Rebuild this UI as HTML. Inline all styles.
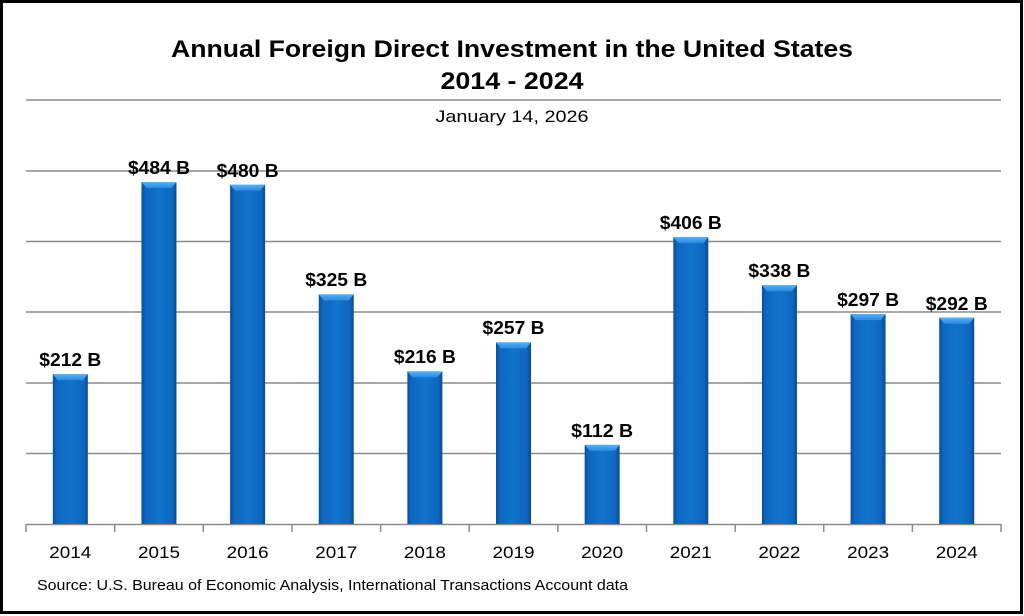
<!DOCTYPE html>
<html><head><meta charset="utf-8"><style>
html,body{margin:0;padding:0;background:#fff;}
svg{display:block;font-family:"Liberation Sans",sans-serif;}
</style></head><body>
<svg width="1024" height="616" viewBox="0 0 1024 616" xmlns="http://www.w3.org/2000/svg">
<defs>
<linearGradient id="g" x1="0" x2="1" y1="0" y2="0">
<stop offset="0" stop-color="#0b4f9c"/><stop offset="0.12" stop-color="#0e67c0"/>
<stop offset="0.5" stop-color="#1273cc"/><stop offset="0.88" stop-color="#0e67c0"/><stop offset="1" stop-color="#0a4a92"/>
</linearGradient>
<linearGradient id="t" x1="0" x2="0" y1="0" y2="1"><stop offset="0" stop-color="#5ab0f0"/><stop offset="1" stop-color="#2a8ae0"/></linearGradient>
<g id="cap"><polygon points="0,0 35,0 30,6 5,6" fill="url(#t)"/></g>
</defs>
<rect x="1.5" y="1.5" width="1020" height="611" fill="#fff" stroke="#000" stroke-width="3"/>
<text x="512" y="57" text-anchor="middle" font-size="24" font-weight="bold" textLength="682" lengthAdjust="spacingAndGlyphs">Annual Foreign Direct Investment in the United States</text>
<text x="512" y="89" text-anchor="middle" font-size="24" font-weight="bold" textLength="143" lengthAdjust="spacingAndGlyphs">2014 - 2024</text>
<text x="512" y="122" text-anchor="middle" font-size="17" textLength="153" lengthAdjust="spacingAndGlyphs">January 14, 2026</text>
<g stroke="#8c8c8c" stroke-width="1.5">
<line x1="26" x2="1001" y1="100" y2="100"/><line x1="26" x2="1001" y1="171" y2="171"/>
<line x1="26" x2="1001" y1="241.5" y2="241.5"/><line x1="26" x2="1001" y1="312" y2="312"/>
<line x1="26" x2="1001" y1="383" y2="383"/><line x1="26" x2="1001" y1="453.5" y2="453.5"/>
<line x1="26" x2="1001" y1="524.5" y2="524.5"/>
<line x1="26" x2="26" y1="524" y2="532"/><line x1="114.64" x2="114.64" y1="524" y2="532"/>
<line x1="203.28" x2="203.28" y1="524" y2="532"/><line x1="291.92" x2="291.92" y1="524" y2="532"/>
<line x1="380.56" x2="380.56" y1="524" y2="532"/><line x1="469.2" x2="469.2" y1="524" y2="532"/>
<line x1="557.84" x2="557.84" y1="524" y2="532"/><line x1="646.48" x2="646.48" y1="524" y2="532"/>
<line x1="735.12" x2="735.12" y1="524" y2="532"/><line x1="823.76" x2="823.76" y1="524" y2="532"/>
<line x1="912.4" x2="912.4" y1="524" y2="532"/><line x1="1001" x2="1001" y1="524" y2="532"/>
</g>
<g fill="url(#g)">
<rect x="52.82" y="374.2" width="35" height="149.8"/>
<rect x="141.46" y="182" width="35" height="342"/>
<rect x="230.1" y="184.8" width="35" height="339.2"/>
<rect x="318.74" y="294.4" width="35" height="229.6"/>
<rect x="407.38" y="371.4" width="35" height="152.6"/>
<rect x="496.02" y="342.4" width="35" height="181.6"/>
<rect x="584.66" y="444.9" width="35" height="79.1"/>
<rect x="673.3" y="237.1" width="35" height="286.9"/>
<rect x="761.94" y="285.2" width="35" height="238.8"/>
<rect x="850.58" y="314.1" width="35" height="209.9"/>
<rect x="939.22" y="317.7" width="35" height="206.3"/>
</g>
<use href="#cap" x="52.82" y="374.2"/><use href="#cap" x="141.46" y="182"/>
<use href="#cap" x="230.1" y="184.8"/><use href="#cap" x="318.74" y="294.4"/>
<use href="#cap" x="407.38" y="371.4"/><use href="#cap" x="496.02" y="342.4"/>
<use href="#cap" x="584.66" y="444.9"/><use href="#cap" x="673.3" y="237.1"/>
<use href="#cap" x="761.94" y="285.2"/><use href="#cap" x="850.58" y="314.1"/>
<use href="#cap" x="939.22" y="317.7"/>
<g font-size="18" font-weight="bold" text-anchor="middle">
<text x="70.32" y="366" textLength="62" lengthAdjust="spacingAndGlyphs">$212 B</text>
<text x="158.96" y="174" textLength="62" lengthAdjust="spacingAndGlyphs">$484 B</text>
<text x="247.6" y="177" textLength="62" lengthAdjust="spacingAndGlyphs">$480 B</text>
<text x="336.24" y="286" textLength="62" lengthAdjust="spacingAndGlyphs">$325 B</text>
<text x="424.88" y="363" textLength="62" lengthAdjust="spacingAndGlyphs">$216 B</text>
<text x="513.52" y="334" textLength="62" lengthAdjust="spacingAndGlyphs">$257 B</text>
<text x="602.16" y="437" textLength="62" lengthAdjust="spacingAndGlyphs">$112 B</text>
<text x="690.8" y="229" textLength="62" lengthAdjust="spacingAndGlyphs">$406 B</text>
<text x="779.44" y="277" textLength="62" lengthAdjust="spacingAndGlyphs">$338 B</text>
<text x="868.08" y="306" textLength="62" lengthAdjust="spacingAndGlyphs">$297 B</text>
<text x="956.72" y="310" textLength="62" lengthAdjust="spacingAndGlyphs">$292 B</text>
</g>
<g font-size="17" text-anchor="middle">
<text x="70.32" y="558" textLength="42" lengthAdjust="spacingAndGlyphs">2014</text>
<text x="158.96" y="558" textLength="42" lengthAdjust="spacingAndGlyphs">2015</text>
<text x="247.6" y="558" textLength="42" lengthAdjust="spacingAndGlyphs">2016</text>
<text x="336.24" y="558" textLength="42" lengthAdjust="spacingAndGlyphs">2017</text>
<text x="424.88" y="558" textLength="42" lengthAdjust="spacingAndGlyphs">2018</text>
<text x="513.52" y="558" textLength="42" lengthAdjust="spacingAndGlyphs">2019</text>
<text x="602.16" y="558" textLength="42" lengthAdjust="spacingAndGlyphs">2020</text>
<text x="690.8" y="558" textLength="42" lengthAdjust="spacingAndGlyphs">2021</text>
<text x="779.44" y="558" textLength="42" lengthAdjust="spacingAndGlyphs">2022</text>
<text x="868.08" y="558" textLength="42" lengthAdjust="spacingAndGlyphs">2023</text>
<text x="956.72" y="558" textLength="42" lengthAdjust="spacingAndGlyphs">2024</text>
</g>
<text x="37" y="590" font-size="15" textLength="591" lengthAdjust="spacingAndGlyphs">Source:  U.S. Bureau of Economic Analysis, International Transactions Account data</text>
</svg>
</body></html>
